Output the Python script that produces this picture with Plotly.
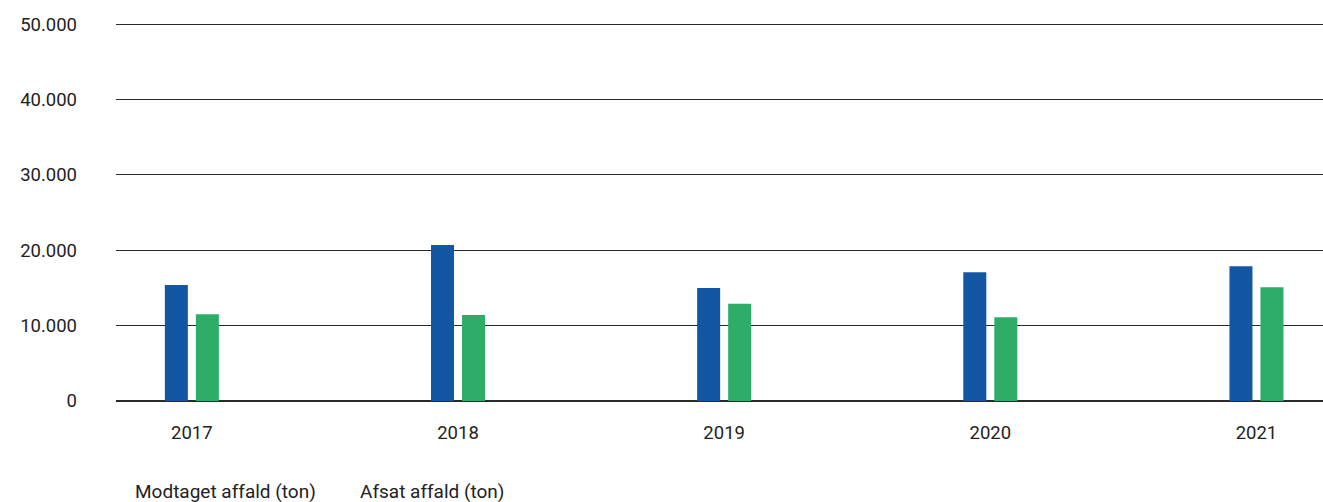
import plotly.graph_objects as go

years = ["2017", "2018", "2019", "2020", "2021"]
modtaget = [15400, 20700, 15000, 17100, 17900]
afsat = [11500, 11400, 12900, 11100, 15100]
series_names = ["Modtaget affald (ton)", "Afsat affald (ton)"]
y_ticks = [0, 10000, 20000, 30000, 40000, 50000]
y_tick_labels = ["0", "10.000", "20.000", "30.000", "40.000", "50.000"]

W, H = 1323, 502
ml, mr, mt, mb = 116, 0, 22, 101

fig = go.Figure()
fig.add_trace(go.Bar(x=years, y=modtaget, name=series_names[0], marker_color="#1356A3", marker_line_width=0))
fig.add_trace(go.Bar(x=years, y=afsat, name=series_names[1], marker_color="#2EAD68", marker_line_width=0))

font = "Roboto, Arial, sans-serif"
tick_font = dict(family=font, size=18.5, color="#222222")
fig.update_layout(
    width=W, height=H,
    margin=dict(l=ml, r=mr, t=mt, b=mb),
    paper_bgcolor="white", plot_bgcolor="white",
    barmode="group", bargap=0.767, bargroupgap=0.258,
    showlegend=False,
    font=dict(family=font, size=18.5, color="#222222"),
)
fig.update_xaxes(
    type="category", range=[-0.285, 4.25],
    showgrid=False, showline=False, zeroline=False,
    ticks="", ticklabelstandoff=18,
    tickfont=tick_font,
)
fig.update_yaxes(
    range=[0, 50300], tickvals=y_ticks, ticktext=y_tick_labels,
    showgrid=True, gridcolor="#2a2a2a", gridwidth=1.3,
    zeroline=True, zerolinecolor="#2a2a2a", zerolinewidth=1.5,
    showline=False, ticks="", ticklabelstandoff=38,
    tickfont=tick_font,
)

pw = W - ml - mr
ph = H - mt - mb
for name, px in zip(series_names, [133, 358]):
    fig.add_annotation(
        text=name, xref="paper", yref="paper",
        x=(px - ml) / pw, y=(H - mb - 491) / ph,
        xanchor="left", yanchor="middle", showarrow=False,
        font=dict(family=font, size=19, color="#222222"),
    )

fig.write_html(
    "out.html",
    config={"displayModeBar": False},
    post_script="document.body.style.margin='0';document.body.style.overflow='hidden';",
)
